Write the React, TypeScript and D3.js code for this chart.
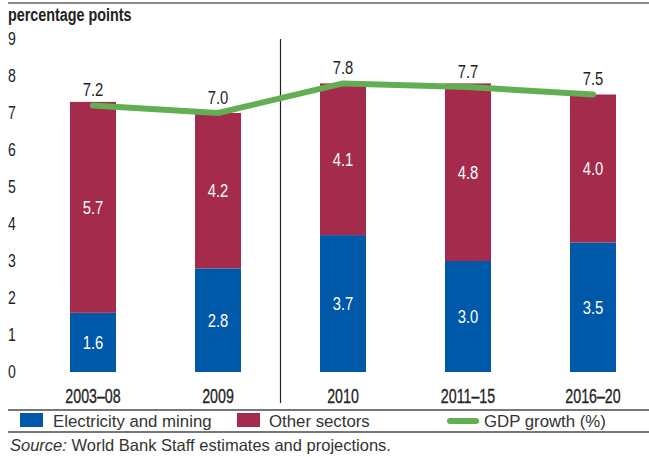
import React, { useEffect, useRef } from "react";
import * as d3 from "d3";

const categories = ["2003–08", "2009", "2010", "2011–15", "2016–20"];
const electricityMining = [1.6, 2.8, 3.7, 3.0, 3.5];
const otherSectors = [5.7, 4.2, 4.1, 4.8, 4.0];
const gdpGrowth = [7.2, 7.0, 7.8, 7.7, 7.5];
const yTicks = [0, 1, 2, 3, 4, 5, 6, 7, 8, 9];

const W = 649;
const H = 457;
const BLUE = "#0058A8";
const MAROON = "#A42B4C";
const GREEN = "#63AE52";
const COND = "'Liberation Sans', Arial, sans-serif";
const SANS = "'Liberation Sans', Arial, sans-serif";
const SX = 0.8;

export default function App() {
  const ref = useRef<SVGSVGElement | null>(null);

  useEffect(() => {
    const svg = d3.select(ref.current);
    svg.selectAll("*").remove();

    const y = d3.scaleLinear().domain([0, 9]).range([372, 39]);
    const x = d3.scalePoint<string>().domain(categories).range([93, 593]);
    const barW = 46;

    const condText = (
      sel: any,
      xf: (d: any, i: number) => number,
      yf: (d: any, i: number) => number,
      size: number,
      fill: string,
      anchor: string,
      sx: number = SX
    ) =>
      sel
        .attr("transform", (d: any, i: number) => `translate(${xf(d, i)},${yf(d, i)}) scale(${sx},1)`)
        .attr("dy", "0.36em")
        .attr("text-anchor", anchor)
        .attr("font-family", COND)
        .attr("font-size", size)
        .attr("fill", fill);

    // top rule
    svg.append("line").attr("x1", 8).attr("x2", W).attr("y1", 3).attr("y2", 3)
      .attr("stroke", "#8a8a8a").attr("stroke-width", 2);

    svg.append("text").attr("transform", "translate(8,21) scale(0.82,1)")
      .attr("font-family", COND).attr("font-weight", "bold").attr("font-size", 17.5)
      .attr("fill", "#222").text("percentage points");

    // y tick labels
    condText(
      svg.append("g").selectAll("text").data(yTicks).join("text"),
      () => 8, (d) => y(d), 18, "#222", "start", 0.78
    ).text((d: number) => d);

    const stack = categories.map((c, i) => ({
      c,
      e: electricityMining[i],
      o: otherSectors[i],
    }));

    const g = svg.append("g");
    g.selectAll("rect.e").data(stack).join("rect").attr("class", "e")
      .attr("x", (d) => (x(d.c) as number) - barW / 2)
      .attr("width", barW)
      .attr("y", (d) => y(d.e))
      .attr("height", (d) => y(0) - y(d.e))
      .attr("fill", BLUE);
    g.selectAll("rect.o").data(stack).join("rect").attr("class", "o")
      .attr("x", (d) => (x(d.c) as number) - barW / 2)
      .attr("width", barW)
      .attr("y", (d) => y(d.e + d.o))
      .attr("height", (d) => y(d.e) - y(d.e + d.o))
      .attr("fill", MAROON);

    condText(
      g.selectAll("text.le").data(stack).join("text").attr("class", "le"),
      (d) => x(d.c) as number, (d) => (y(0) + y(d.e)) / 2, 18.5, "#fff", "middle"
    ).text((d: any) => d.e.toFixed(1));
    condText(
      g.selectAll("text.lo").data(stack).join("text").attr("class", "lo"),
      (d) => x(d.c) as number, (d) => (y(d.e) + y(d.e + d.o)) / 2, 18.5, "#fff", "middle"
    ).text((d: any) => d.o.toFixed(1));

    // divider
    const divX = ((x(categories[1]) as number) + (x(categories[2]) as number)) / 2;
    svg.append("line").attr("x1", divX).attr("x2", divX).attr("y1", 39).attr("y2", 403)
      .attr("stroke", "#222").attr("stroke-width", 1.2);

    // GDP line
    const line = d3.line<number>()
      .x((_, i) => x(categories[i]) as number)
      .y((d) => y(d));
    svg.append("path").attr("d", line(gdpGrowth) as string)
      .attr("fill", "none").attr("stroke", GREEN).attr("stroke-width", 6)
      .attr("stroke-linecap", "round").attr("stroke-linejoin", "round");

    condText(
      svg.append("g").selectAll("text").data(gdpGrowth).join("text"),
      (_, i) => x(categories[i]) as number, (d) => y(d) - 16, 18.5, "#222", "middle"
    ).text((d: number) => d.toFixed(1));

    // category labels
    condText(
      svg.append("g").selectAll("text").data(categories).join("text"),
      (d) => x(d) as number, () => 396, 19.5, "#222", "middle", 0.73
    ).attr("stroke", "#222").attr("stroke-width", 0.3).text((d: string) => d);

    // legend rules
    svg.append("line").attr("x1", 8).attr("x2", W).attr("y1", 410).attr("y2", 410)
      .attr("stroke", "#777").attr("stroke-width", 2);
    svg.append("line").attr("x1", 8).attr("x2", W).attr("y1", 432).attr("y2", 432)
      .attr("stroke", "#777").attr("stroke-width", 2);

    const leg = svg.append("g");
    leg.append("rect").attr("x", 20).attr("y", 413).attr("width", 23).attr("height", 14).attr("fill", BLUE);
    leg.append("text").attr("x", 53).attr("y", 426.5).attr("font-family", SANS).attr("font-size", 16.8)
      .attr("fill", "#333").text("Electricity and mining");
    leg.append("rect").attr("x", 237).attr("y", 413).attr("width", 23).attr("height", 14).attr("fill", MAROON);
    leg.append("text").attr("x", 269).attr("y", 426.5).attr("font-family", SANS).attr("font-size", 16.8)
      .attr("fill", "#333").text("Other sectors");
    leg.append("line").attr("x1", 450).attr("x2", 476).attr("y1", 421).attr("y2", 421)
      .attr("stroke", GREEN).attr("stroke-width", 6).attr("stroke-linecap", "round");
    leg.append("text").attr("x", 484).attr("y", 426.5).attr("font-family", SANS).attr("font-size", 16.8)
      .attr("fill", "#333").text("GDP growth (%)");

    const src = svg.append("text").attr("x", 10).attr("y", 451).attr("font-family", SANS)
      .attr("font-size", 16.5).attr("fill", "#333");
    src.append("tspan").attr("font-style", "italic").text("Source:");
    src.append("tspan").text(" World Bank Staff estimates and projections.");
  }, []);

  return (
    <svg
      ref={ref}
      width={W}
      height={H}
      style={{ position: "absolute", left: 0, top: 0, background: "#fff" }}
    />
  );
}
